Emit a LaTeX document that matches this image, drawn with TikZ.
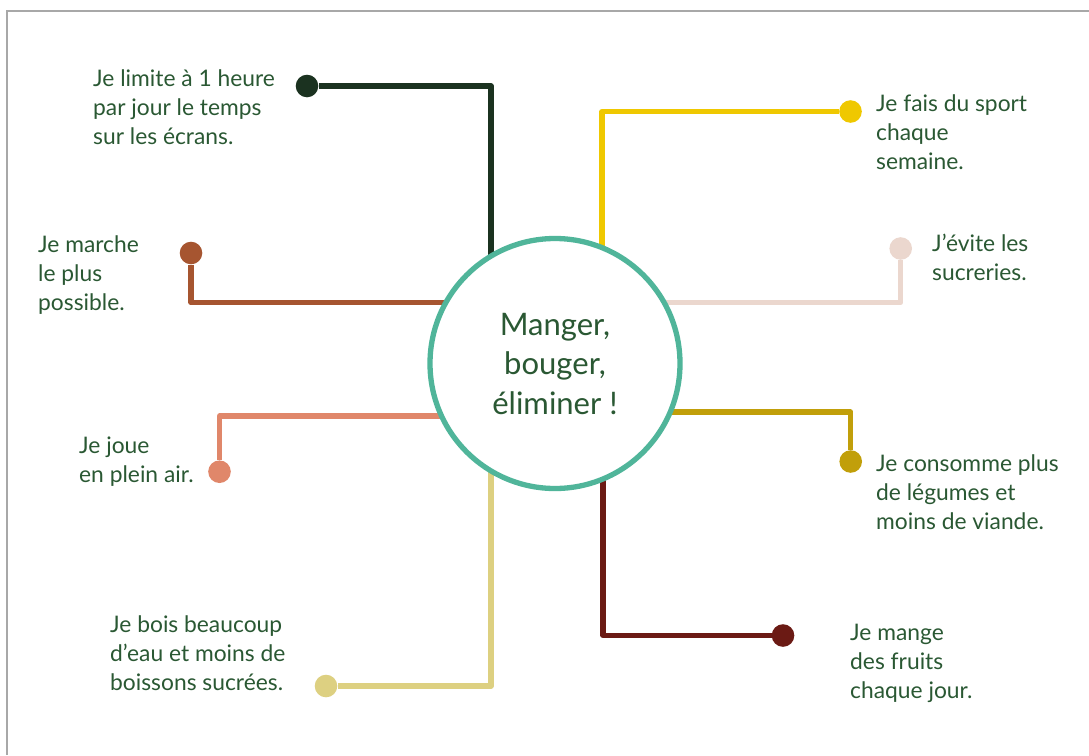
\documentclass[tikz,border=0pt]{standalone}
\usepackage{fontspec}
\setmainfont{Lato}
\definecolor{txtgreen}{HTML}{2A5833}
\definecolor{teal}{HTML}{50B59A}
\definecolor{cA}{HTML}{1B3220}
\definecolor{cB}{HTML}{EFC800}
\definecolor{cC}{HTML}{A65530}
\definecolor{cD}{HTML}{EBD7CE}
\definecolor{cE}{HTML}{E0876A}
\definecolor{cF}{HTML}{C19F0A}
\definecolor{cG}{HTML}{DDD081}
\definecolor{cH}{HTML}{6B1A14}
\definecolor{framegray}{HTML}{A8A8A8}
\newcommand{\lbltab}[1]{\begin{tabular}[t]{@{}l@{}}#1\end{tabular}}
\newcommand{\ctrtab}[1]{\begin{tabular}[t]{@{}c@{}}#1\end{tabular}}
\begin{document}
\begin{tikzpicture}[x=1pt,y=-1pt,
  dot/.style={circle,fill=#1,minimum size=22.6pt,inner sep=0pt},
  conn/.style={draw=#1,line width=5.3pt,line join=round},
  lbl/.style={anchor=base west,inner sep=0pt,text=txtgreen,font=\fontsize{22.8}{29}\selectfont},
  hub/.style={circle,draw=teal,line width=5.3pt,fill=white,minimum size=250pt,inner sep=0pt}]
\useasboundingbox (0,0) rectangle (1089,755);
\draw[framegray,line width=2pt] (7,755) -- (7,10.5) -- (1089,10.5);
% dots
\node[dot=cA] (d1) at (307,86) {};
\node[dot=cB] (d2) at (850.5,111.5) {};
\node[dot=cC] (d3) at (191,253) {};
\node[dot=cD] (d4) at (900.7,248.5) {};
\node[dot=cE] (d5) at (219.5,471.7) {};
\node[dot=cF] (d6) at (850.7,461.5) {};
\node[dot=cG] (d7) at (326,686) {};
\node[dot=cH] (d8) at (783,635.5) {};
% corners and inner ends
\coordinate (k1) at (491,86);    \coordinate (e1) at (491,330);
\coordinate (k2) at (602,111.5); \coordinate (e2) at (602,330);
\coordinate (k3) at (191,302.7); \coordinate (e3) at (520,302.7);
\coordinate (k4) at (900.7,302.7); \coordinate (e4) at (590,302.7);
\coordinate (k5) at (219.5,416); \coordinate (e5) at (520,416);
\coordinate (k6) at (850.7,412); \coordinate (e6) at (590,412);
\coordinate (k7) at (491,686);   \coordinate (e7) at (491,400);
\coordinate (k8) at (603,635.5); \coordinate (e8) at (603,400);
\draw[conn=cA] (d1) -- (k1) -- (e1);
\draw[conn=cB] (d2) -- (k2) -- (e2);
\draw[conn=cC] (d3) -- (k3) -- (e3);
\draw[conn=cD] (d4) -- (k4) -- (e4);
\draw[conn=cE] (d5) -- (k5) -- (e5);
\draw[conn=cF] (d6) -- (k6) -- (e6);
\draw[conn=cG] (d7) -- (k7) -- (e7);
\draw[conn=cH] (d8) -- (k8) -- (e8);
% hub
\node[hub] (hub) at (555,363.5) {};
\node[anchor=base,inner sep=0pt,text=txtgreen,font=\fontsize{31}{39.5}\selectfont] (title) at (555,335) {\ctrtab{Manger,\\bouger,\\éliminer !}};
% labels
\node[lbl] (t1) at (93,86.7) {\lbltab{Je limite à 1 heure\\par jour le temps\\sur les écrans.}};
\node[lbl] (t2) at (876,111) {\lbltab{Je fais du sport\\chaque\\semaine.}};
\node[lbl] (t3) at (38,252) {\lbltab{Je marche\\le plus\\possible.}};
\node[lbl] (t4) at (932,251) {\lbltab{J’évite les\\sucreries.}};
\node[lbl] (t5) at (79,453) {\lbltab{Je joue\\en plein air.}};
\node[lbl] (t6) at (876,471) {\lbltab{Je consomme plus\\de légumes et\\moins de viande.}};
\node[lbl] (t7) at (110,632) {\lbltab{Je bois beaucoup\\d’eau et moins de\\boissons sucrées.}};
\node[lbl] (t8) at (850,640) {\lbltab{Je mange\\des fruits\\chaque jour.}};
\end{tikzpicture}
\end{document}
